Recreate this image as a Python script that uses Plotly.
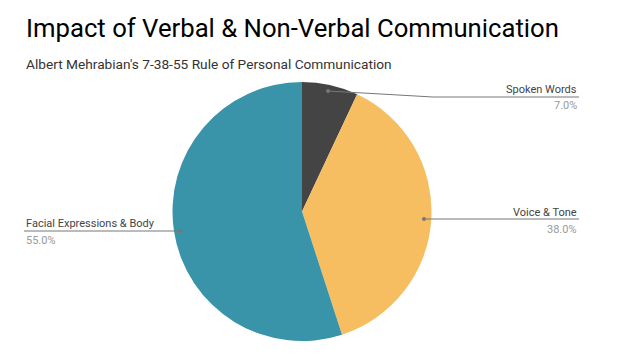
import plotly.graph_objects as go

labels = ["Spoken Words", "Voice & Tone", "Facial Expressions & Body"]
values = [7.0, 38.0, 55.0]
colors = ["#444444", "#f6be61", "#3993a9"]

W, H = 621, 360
def px(x):
    return x / W
def py(y):
    return 1 - y / H

cx, cy, r = 302, 211.5, 129.5

fig = go.Figure(go.Pie(
    labels=labels, values=values, sort=False, direction="clockwise", rotation=0,
    marker=dict(colors=colors, line=dict(width=0)),
    textinfo="none", hoverinfo="label+percent", showlegend=False,
    domain=dict(x=[px(cx - r), px(cx + r)], y=[py(cy + r), py(cy - r)]),
))

font = "Roboto, Arial, sans-serif"
ann = []
ann.append(dict(text="Impact of Verbal & Non-Verbal Communication", x=px(24), y=py(28.5),
                xanchor="left", yanchor="middle", showarrow=False,
                font=dict(family=font, size=25.7, color="#000000")))
ann.append(dict(text="Albert Mehrabian's 7-38-55 Rule of Personal Communication", x=px(23.5), y=py(63.5),
                xanchor="left", yanchor="middle", showarrow=False,
                font=dict(family=font, size=13.7, color="#333333")))

# callout label specs: (label index, text x, anchor, label y, pct y)
specs = [(0, 579, "right", 89, 105), (1, 579, "right", 212, 229), (2, 24, "left", 223, 240)]
for i, tx, anc, ly, pcy in specs:
    ann.append(dict(text=labels[i], x=px(tx), y=py(ly), xanchor=anc, yanchor="middle",
                    showarrow=False, font=dict(family=font, size=11, color="#444444")))
    ann.append(dict(text=f"{values[i]:.1f}%", x=px(tx), y=py(pcy), xanchor=anc, yanchor="middle",
                    showarrow=False, font=dict(family=font, size=11, color="#999999")))

shapes = []
lc = "#777777"
# leader lines
paths = [
    [(328, 91), (433, 97), (579, 97)],
    [(424, 219), (579, 219)],
    [(180, 231), (24, 231)],
]
for pts in paths:
    d = "M " + " L ".join(f"{px(x)},{py(y)}" for x, y in pts)
    shapes.append(dict(type="path", path=d, xref="paper", yref="paper",
                       line=dict(color=lc, width=1)))
    x0, y0 = pts[0]
    shapes.append(dict(type="circle", xref="paper", yref="paper",
                       x0=px(x0 - 2), x1=px(x0 + 2), y0=py(y0 + 2), y1=py(y0 - 2),
                       fillcolor=lc, line=dict(width=0)))

fig.update_layout(width=W, height=H, margin=dict(l=0, r=0, t=0, b=0),
                  paper_bgcolor="white", plot_bgcolor="white",
                  annotations=ann, shapes=shapes)
fig.write_html("out.html", config=dict(displayModeBar=False),
               post_script="document.body.style.margin='0';document.body.style.overflow='hidden';")
